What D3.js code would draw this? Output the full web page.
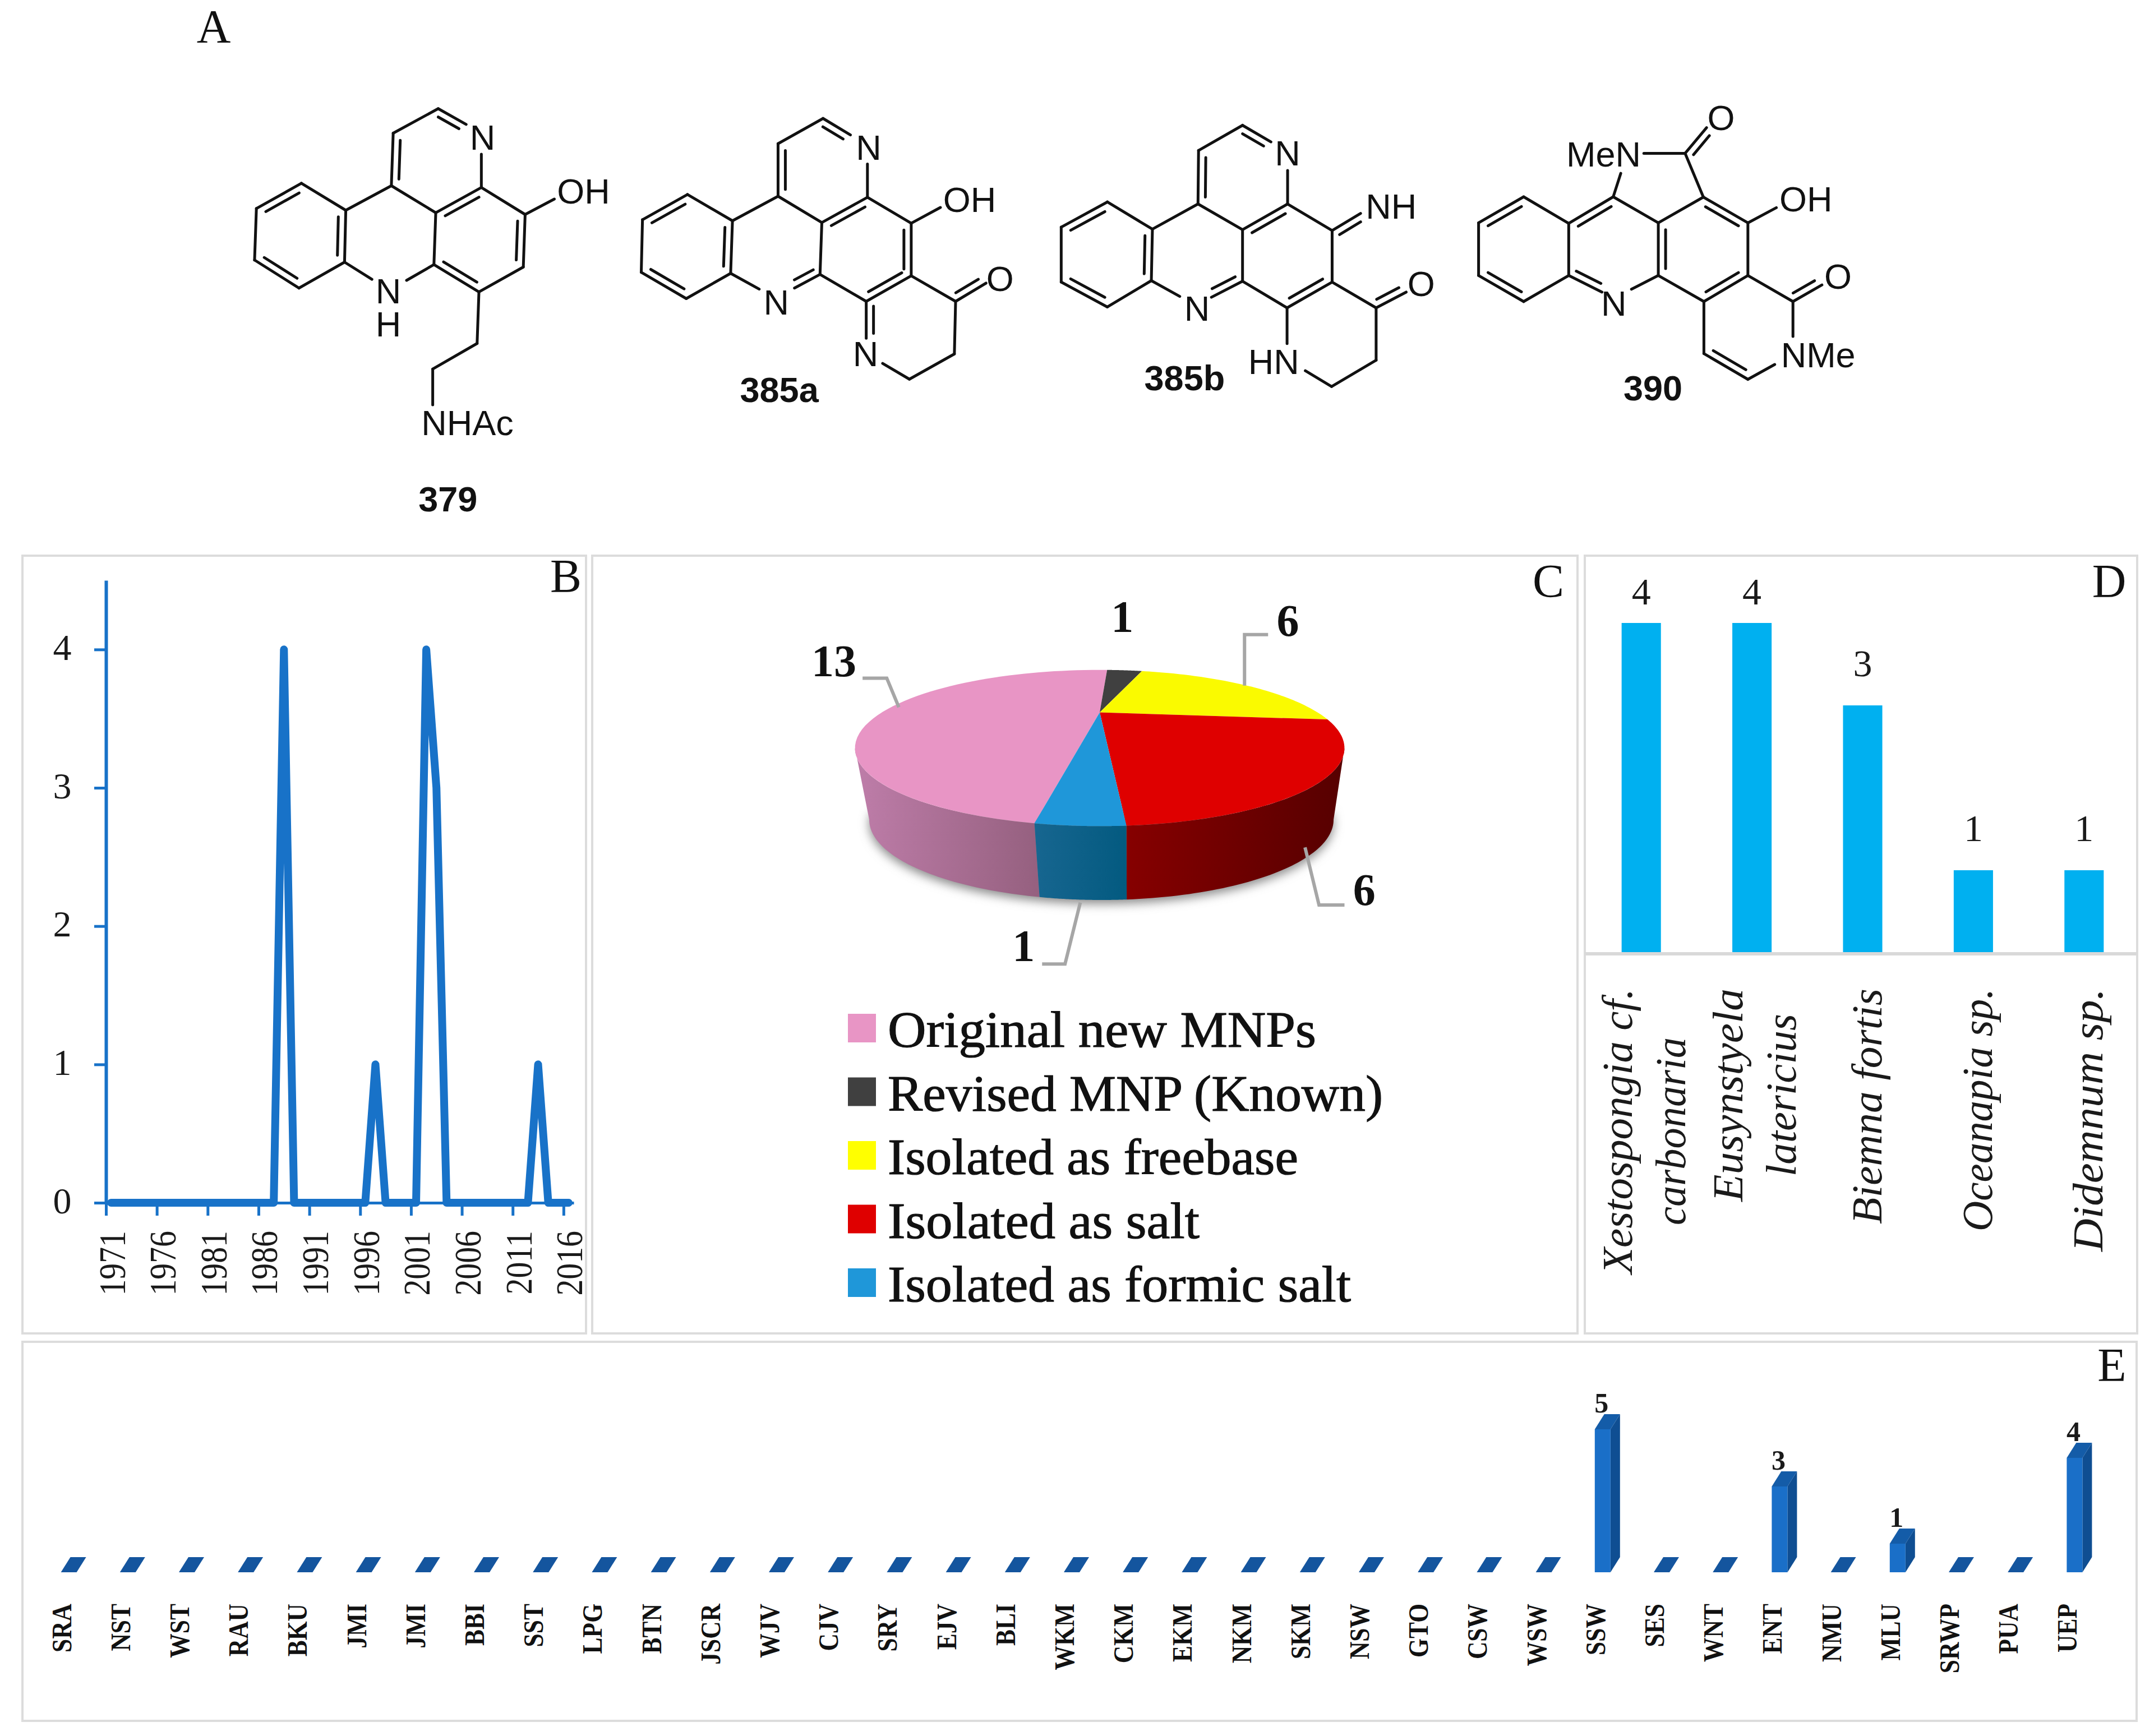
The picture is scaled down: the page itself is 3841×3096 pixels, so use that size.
<!DOCTYPE html>
<html><head><meta charset="utf-8">
<script src="https://cdn.jsdelivr.net/npm/d3@7"></script>
<style>html,body{margin:0;padding:0;background:#fff}svg{display:block}</style>
</head><body><svg id="c" width="3841" height="3096" viewBox="0 0 3841 3096"></svg>
<script>
// ---------- Panel B data
const years = d3.range(1971, 2017);
const isolationYears = [1988, 1997, 2002, 2003, 2013];
const isolationCounts = [4, 1, 4, 3, 1];
const yearTicks = [1971,1976,1981,1986,1991,1996,2001,2006,2011,2016];
const countTicks = [0,1,2,3,4];
// ---------- Panel C data
const pieCategories = ["Original new MNPs","Revised MNP (Known)","Isolated as freebase","Isolated as salt","Isolated as formic salt"];
const pieValues = [13,1,6,6,1];
const pieColors = ["#E895C5","#404040","#FAFA00","#DF0000","#1F97D9"];
// ---------- Panel D data
const sourceNames = [["Xestospongia cf.","carbonaria"],["Eusynstyela","latericius"],["Biemna fortis"],["Oceanapia sp."],["Didemnum sp."]];
const sourceCounts = [4,4,3,1,1];
// ---------- Panel E data
const siteNames = ["SRA","NST","WST","RAU","BKU","JMI","JMI","BBI","SST","LPG","BTN","JSCR","WJV","CJV","SRY","EJV","BLI","WKM","CKM","EKM","NKM","SKM","NSW","GTO","CSW","WSW","SSW","SES","WNT","ENT","NMU","MLU","SRWP","PUA","UEP"];
const siteCounts = [0,0,0,0,0,0,0,0,0,0,0,0,0,0,0,0,0,0,0,0,0,0,0,0,0,0,5,0,0,3,0,1,0,0,4];

const SERIF = "'Liberation Serif',serif", SANS = "'Liberation Sans',Arial,sans-serif";
const svg = d3.select("#c");
const defs = svg.append("defs");
const rad = d => d*Math.PI/180;

// ---------- Panel frames
const frames = [[40,991,1005,1387],[1056,991,1757,1387],[2826,991,985,1387],[40,2393,3770,676]];
svg.append("g").selectAll("rect").data(frames).join("rect")
  .attr("x",d=>d[0]).attr("y",d=>d[1]).attr("width",d=>d[2]).attr("height",d=>d[3])
  .attr("fill","none").attr("stroke","#dcdcdc").attr("stroke-width",4);

// ---------- Panel letters
const letters = [["A",381,76],["B",1009,1056],["C",2761,1065],["D",3761,1065],["E",3766,2463]];
svg.append("g").selectAll("text").data(letters).join("text")
  .attr("x",d=>d[1]).attr("y",d=>d[2]).attr("text-anchor","middle")
  .attr("font-family",SERIF).attr("font-size",84).attr("fill","#111").text(d=>d[0]);

// ---------- Panel A: chemical structures
const sx1=d3.scaleLinear([0,1568],[300,2000]), sy1=d3.scaleLinear([0,1568],[0,980]);
const sx2=d3.scaleLinear([0,1568],[1900,3400]), sy2=d3.scaleLinear([0,1568],[100,900]);
const structures = [
 {sx:sx1,sy:sy1,
  pts:{a:[145,595],b:[219,523],c:[292,600],d:[290,748],e:[215,822],f:[142,742],g:[367,530],h:[370,380],i:[444,310],n1:[490,355],n2:[515,440],j:[515,535],k:[440,607],l:[437,755],n3:[335,797],n4:[392,800],m:[511,833],n:[584,762],o:[587,612],oh:[635,568],p:[508,980],q:[435,1053],r:[435,1155]},
  bonds:[["a","b","c"],["b","c"],["c","d","a"],["d","e"],["e","f","c"],["f","a"],["c","g"],["g","h","i"],["h","i"],["i","n1","h"],["n2","j"],["g","k"],["k","j","m"],["k","l"],["d","n3"],["l","n4"],["l","m","k"],["m","n"],["n","o","k"],["o","j"],["o","oh"],["m","p"],["p","q"],["q","r"]],
  labels:[["N",517,392],["N|H",362,830],["OH",683,546],["NHAc",492,1207],["379",460,1424,1]]},
 {sx:sx1,sy:sy1,
  pts:{a:[780,627],b:[854,555],c:[928,630],d:[925,780],e:[852,852],f:[778,777],g:[1003,560],h:[1003,410],i:[1077,338],n1:[1122,385],n2:[1150,468],j:[1150,563],k:[1075,635],l:[1072,783],n3:[972,825],n4:[1030,822],m:[1148,860],n:[1222,787],o:[1222,637],oh:[1270,592],p:[1295,860],ox:[1345,808],q:[1293,1010],r:[1219,1082],n5:[1175,1037],n6:[1148,965]},
  bonds:[["a","b","c"],["b","c"],["c","d","a"],["d","e"],["e","f","c"],["f","a"],["c","g"],["g","h","i"],["h","i"],["i","n1","h"],["n2","j"],["g","k"],["k","j","l"],["k","l"],["d","n3"],["l","n4","k"],["l","m"],["m","n","l"],["n","o","k"],["o","j"],["o","oh"],["n","p"],["p","ox","n"],["p","q"],["q","r"],["r","n5"],["m","n6","q"]],
  labels:[["N",1152,420],["N",1000,862],["OH",1318,570],["O",1368,795],["N",1147,1010],["385a",1005,1112,1]]},
 {sx:sx2,sy:sy2,
  pts:{a:[-8,598],b:[78,510],c:[162,605],d:[160,785],e:[78,877],f:[-8,790],g:[247,517],h:[248,330],i:[330,242],n1:[383,300],n2:[414,400],j:[414,517],k:[330,607],l:[330,787],n3:[213,840],n4:[272,843],m:[413,880],n:[497,790],o:[497,610],nh:[550,550],p:[579,880],ox:[635,825],q:[579,1063],r:[496,1155],n5:[447,1100],n6:[413,1005]},
  bonds:[["a","b","c"],["b","c"],["c","d","a"],["d","e"],["e","f","c"],["f","a"],["c","g"],["g","h","i"],["h","i"],["i","n1","h"],["n2","j"],["g","k"],["k","j","l"],["k","l"],["d","n3"],["l","n4","k"],["l","m"],["m","n","l"],["n","o"],["o","j"],["o","nh","n"],["n","p"],["p","ox","n"],["p","q"],["q","r"],["r","n5"],["m","n6"]],
  labels:[["N",414,340],["N",245,882],["NH",607,525],["O",663,795],["HN",388,1068],["385b",222,1125,1]]},
 {sx:sx2,sy:sy2,
  pts:{a:[770,583],b:[854,492],c:[938,585],d:[938,767],e:[854,858],f:[770,767],g:[1021,492],k:[1105,583],l:[1105,767],n3:[1000,825],n4:[1055,815],n5:[1035,410],n6:[1078,340],cc:[1155,340],ox:[1195,250],s:[1189,493],t:[1272,583],oh:[1325,530],u:[1272,767],v:[1190,858],w:[1356,858],ox2:[1410,800],x:[1356,980],y:[1190,1040],z:[1272,1130],n7:[1322,1078]},
  bonds:[["a","b","c"],["b","c"],["c","d"],["d","e"],["e","f","a"],["f","a"],["c","g","k"],["g","k"],["k","l","t"],["d","n3","k"],["l","n4"],["g","n5"],["n6","cc"],["cc","ox","s"],["cc","s"],["k","s"],["s","t","k"],["t","oh"],["t","u"],["l","v"],["v","u","l"],["u","w"],["w","ox2","u"],["w","x"],["v","y"],["y","z","w"],["z","n7"]],
  labels:[["N",1022,865],["MeN",1003,343],["O",1222,215],["OH",1380,500],["O",1440,770],["NMe",1403,1045],["390",1095,1160,1]]}
];
const gA = svg.append("g").attr("stroke","#111").attr("stroke-width",5).attr("stroke-linecap","round");
structures.forEach(s=>{
  const P = id=>[s.sx(s.pts[id][0]),s.sy(s.pts[id][1])];
  const segs=[];
  s.bonds.forEach(([p,q,t])=>{
    const A=P(p),B=P(q); segs.push([A,B]);
    if(t){
      const T=P(t),dx=B[0]-A[0],dy=B[1]-A[1],L=Math.hypot(dx,dy);
      let nx=-dy/L,ny=dx/L;
      if(nx*(T[0]-A[0])+ny*(T[1]-A[1])<0){nx=-nx;ny=-ny;}
      const o=13,sh=0.13;
      segs.push([[A[0]+dx*sh+nx*o,A[1]+dy*sh+ny*o],[B[0]-dx*sh+nx*o,B[1]-dy*sh+ny*o]]);
    }
  });
  gA.append("g").selectAll("line").data(segs).join("line")
    .attr("x1",d=>d[0][0]).attr("y1",d=>d[0][1]).attr("x2",d=>d[1][0]).attr("y2",d=>d[1][1]);
  const lab=gA.append("g").attr("stroke","none").selectAll("text").data(s.labels).join("text")
    .attr("text-anchor","middle").attr("font-family",SANS).attr("font-size",63)
    .attr("font-weight",d=>d[3]?"bold":"normal").attr("fill","#111");
  lab.each(function(d){
    const parts=d[0].split("|");
    d3.select(this).selectAll("tspan").data(parts).join("tspan")
      .attr("x",s.sx(d[1])).attr("y",(t,i)=>s.sy(d[2])+22+i*59).text(t=>t);
  });
});

// ---------- Panel B: line chart
const LB="#1872C8";
const xB=d3.scaleLinear([1971,2017],[189,1023]);
const yB=d3.scaleLinear([0,4.5],[2145,1035]);
const series=years.map(yr=>{const i=isolationYears.indexOf(yr);return {yr,v:i<0?0:isolationCounts[i]};});
const gB=svg.append("g");
const axX=gB.append("g").attr("transform",`translate(0,${yB(0)})`)
  .call(d3.axisBottom(xB).tickValues(yearTicks).tickFormat(d3.format("d")).tickSize(23).tickSizeOuter(0));
axX.selectAll("path").attr("stroke",LB).attr("stroke-width",5);
axX.selectAll("line").attr("stroke",LB).attr("stroke-width",5);
axX.selectAll("text").attr("x",0).attr("y",0).attr("dy",0).attr("text-anchor","end")
  .attr("transform","translate(33,50) rotate(-90) scale(.85,1)")
  .attr("font-family",SERIF).attr("font-size",68).attr("fill","#1a1a1a");
const axY=gB.append("g").attr("transform",`translate(${xB(1971)},0)`)
  .call(d3.axisLeft(yB).tickValues(countTicks).tickFormat(d3.format("d")).tickSize(21).tickSizeOuter(0));
axY.selectAll("path").attr("stroke",LB).attr("stroke-width",6);
axY.selectAll("line").attr("stroke",LB).attr("stroke-width",5);
axY.selectAll("text").attr("x",-78).attr("y",0).attr("dy",18).attr("text-anchor","middle")
  .attr("font-family",SERIF).attr("font-size",66).attr("fill","#1a1a1a");
gB.append("path").datum(series)
  .attr("d",d3.line().x(d=>xB(d.yr+.5)).y(d=>yB(d.v)))
  .attr("fill","none").attr("stroke",LB).attr("stroke-width",14)
  .attr("stroke-linejoin","round").attr("stroke-linecap","round");

// ---------- Panel C: perspective 3D pie
const xC=d3.scaleLinear([0,1568],[1050,2830]), yC=d3.scaleLinear([0,1568],[980,2380]);
const topDisc={cx:1961,cy:1334,rx:436.4,ry:139.3,k:-.455};
const lowDisc={cx:1964,cy:1462,rx:414,ry:143,k:-.455};
const proj=(th,r,c)=>{
  const u=r*Math.sin(th),v=-r*Math.cos(th),den=1+c.k*v;
  return [c.cx+c.rx*u*Math.sqrt(1-c.k*c.k)/den, c.cy+c.ry*(v+c.k)/den];
};
const pieGen=d3.pie().sort(null).startAngle(rad(189.5)).endAngle(rad(549.5));
const arcs=pieGen(pieValues);
const lineGen=d3.line();
const sample=(a,b,n=60)=>d3.range(n+1).map(i=>a+(b-a)*i/n);
const gC=svg.append("g");
const blur=defs.append("filter").attr("id","soft").attr("x","-10%").attr("y","-20%").attr("width","120%").attr("height","140%");
blur.append("feGaussianBlur").attr("stdDeviation",9);
gC.append("path").attr("filter","url(#soft)").attr("fill","#8a8a8a")
  .attr("d",lineGen(sample(rad(110),rad(250)).map(t=>{const p=proj(t,1,lowDisc);return [p[0],p[1]+7];}))+"Z");
const wallStops=[["#BE7DA9","#95607F"],null,null,["#860000","#560000"],["#176690","#035A80"]];
arcs.forEach((d,i)=>{
  if(!wallStops[i])return;
  let a=d.startAngle,b=d.endAngle;
  if(a>=2*Math.PI){a-=2*Math.PI;b-=2*Math.PI;}
  a=Math.max(a,rad(117));b=Math.min(b,rad(243));
  const id="w"+i, g=defs.append("linearGradient").attr("id",id);
  // the red wall runs left-to-right dark red to deep maroon, the others follow the same direction
  g.append("stop").attr("offset",0).attr("stop-color",wallStops[i][0]);
  g.append("stop").attr("offset",1).attr("stop-color",wallStops[i][1]);
  const ts=sample(a,b);
  const polyW=ts.map(t=>proj(t,1,topDisc)).concat(ts.slice().reverse().map(t=>proj(t,1,lowDisc)));
  gC.append("path").attr("d",lineGen(polyW)+"Z").attr("fill",`url(#${id})`);
});
gC.append("g").selectAll("path").data(arcs).join("path")
  .attr("d",d=>lineGen([proj(0,0,topDisc)].concat(sample(d.startAngle,d.endAngle).map(t=>proj(t,1,topDisc))))+"Z")
  .attr("fill",(d,i)=>pieColors[i]);
const leaders=[[[430,257],[468,257],[487,315]],[[1067,170],[1030,170],[1030,272]],[[1125,595],[1147,710],[1187,710]],[[772,705],[748,828],[712,828]]];
gC.append("g").selectAll("path").data(leaders).join("path")
  .attr("d",d=>lineGen(d.map(p=>[xC(p[0]),yC(p[1])])))
  .attr("fill","none").attr("stroke","#a6a6a6").attr("stroke-width",6);
const pieLabelAt=[[385,253],[838,165],[1098,173],[1218,710],[683,822]];
const pieLabelOrder=[0,1,2,3,4];
gC.append("g").selectAll("text").data(pieLabelOrder).join("text")
  .attr("x",i=>xC(pieLabelAt[i][0])).attr("y",i=>yC(pieLabelAt[i][1]))
  .attr("text-anchor","middle").attr("font-family",SERIF).attr("font-weight","bold")
  .attr("font-size",80).attr("fill","#111").text(i=>pieValues[i]);
// legend
const legendY=d3.scalePoint(pieCategories,[1834,2288]);
const legendWidths=[764,883,732,556,826];
const lg=gC.append("g").selectAll("g").data(pieCategories).join("g").attr("transform",d=>`translate(1512,${legendY(d)})`);
lg.append("rect").attr("y",-26).attr("width",50).attr("height",51).attr("fill",(d,i)=>pieColors[i]==="#FAFA00"?"#FFFF00":pieColors[i]);
lg.append("text").attr("x",71).attr("y",33).attr("font-family",SERIF).attr("font-size",92).attr("fill","#111")
  .attr("stroke","#111").attr("stroke-width",1.2)
  .attr("textLength",(d,i)=>legendWidths[i]).attr("lengthAdjust","spacingAndGlyphs").text(d=>d);

// ---------- Panel D: bars
const xD=d3.scaleBand(d3.range(sourceCounts.length),[2828,3815]).paddingInner(.645).paddingOuter(.3225);
const yD=d3.scaleLinear([0,4],[1699,1111]);
const gD=svg.append("g");
gD.append("g").selectAll("rect").data(sourceCounts).join("rect")
  .attr("x",(d,i)=>xD(i)).attr("width",xD.bandwidth()).attr("y",d=>yD(d)).attr("height",d=>yD(0)-yD(d)).attr("fill","#00B0F0");
gD.append("line").attr("x1",2826).attr("x2",3811).attr("y1",1701).attr("y2",1701).attr("stroke","#d9d9d9").attr("stroke-width",6);
gD.append("g").selectAll("text").data(sourceCounts).join("text")
  .attr("x",(d,i)=>xD(i)+xD.bandwidth()/2).attr("y",d=>Math.max(yD(d)-52,1078))
  .attr("text-anchor","middle").attr("font-family",SERIF).attr("font-size",68).attr("fill","#1a1a1a").text(d=>d);
const sourceWidths=[[509,335],[380,290],[420],[433],[469]];
sourceNames.forEach((lines,i)=>{
  const c=xD(i)+xD.bandwidth()/2;
  const offs=lines.length===2?[-17,78]:[33];
  const w=d3.max(sourceWidths[i]);
  lines.forEach((t,j)=>gD.append("text").attr("font-family",SERIF).attr("font-style","italic")
     .attr("font-size",76).attr("fill","#1a1a1a").attr("text-anchor","middle")
     .attr("textLength",sourceWidths[i][j]).attr("lengthAdjust","spacingAndGlyphs")
     .attr("transform",`translate(${c+offs[j]},${1763+w/2}) rotate(-90)`).text(t));
});

// ---------- Panel E: 3D column bars
const xE=d3.scaleBand(d3.range(siteNames.length),[70,3752]);
const yE=d3.scaleLinear([0,5],[2804,2549]);
const colW=28,skewX=17,skewY=27;
const gE=svg.append("g");
const bars=gE.append("g").selectAll("g").data(siteCounts).join("g")
  .attr("transform",(d,i)=>`translate(${xE(i)+xE.bandwidth()/2-colW/2},0)`);
const poly=pts=>lineGen(pts)+"Z";
bars.append("path").attr("fill","#0F4E92").attr("d",d=>poly([[colW,yE(0)],[colW+skewX,yE(0)-skewY],[colW+skewX,yE(d)-skewY],[colW,yE(d)]]));
bars.append("path").attr("fill",d=>d?"#145CA8":"#14559E").attr("d",d=>poly([[0,yE(d)],[colW,yE(d)],[colW+skewX,yE(d)-skewY],[skewX,yE(d)-skewY]]));
bars.append("rect").attr("x",0).attr("width",colW).attr("y",d=>yE(d)).attr("height",d=>yE(0)-yE(d)).attr("fill","#1A6FC8");
bars.filter(d=>d>0).append("text").attr("x",colW/2-2).attr("y",d=>yE(d)-skewY-3).attr("text-anchor","middle")
  .attr("font-family",SERIF).attr("font-weight","bold").attr("font-size",50).attr("fill","#1a1a1a").text(d=>d);
const axE=gE.append("g").attr("transform","translate(0,2860)")
  .call(d3.axisBottom(xE).tickFormat(i=>siteNames[i]).tickSize(0));
axE.select("path").remove();
axE.selectAll("text").attr("x",0).attr("y",0).attr("dy",0).attr("text-anchor","end")
  .attr("transform","translate(4,0) rotate(-90) scale(.87,1)")
  .attr("font-family",SERIF).attr("font-weight","bold").attr("font-size",50).attr("fill","#111");
</script></body></html>
